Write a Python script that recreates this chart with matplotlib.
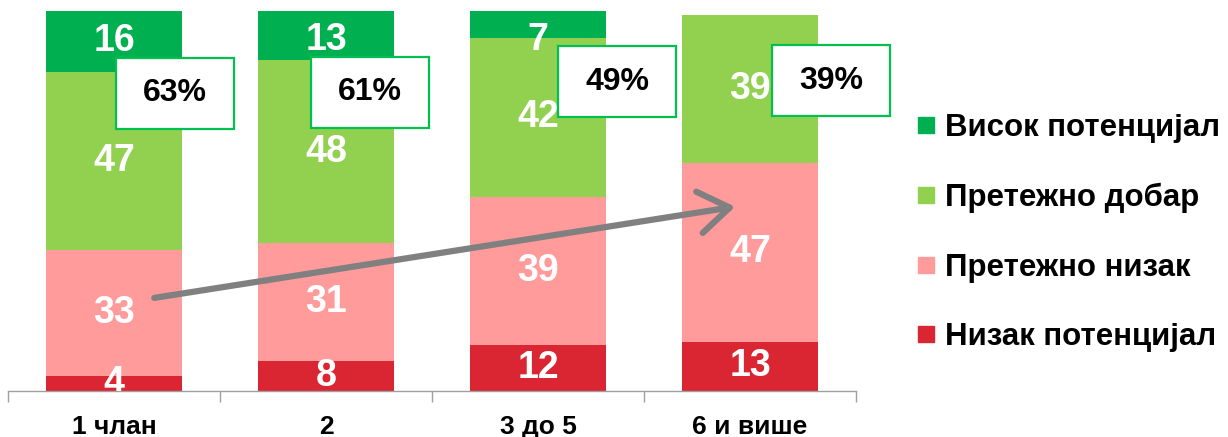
import matplotlib.pyplot as plt
from matplotlib.patches import Rectangle
from matplotlib.lines import Line2D

plt.rcParams['font.family'] = ['Liberation Sans', 'DejaVu Sans']

categories = ['1 члан', '2', '3 до 5', '6 и више']
nizak = [4, 8, 12, 13]
pretezno_nizak = [33, 31, 39, 47]
pretezno_dobar = [47, 48, 42, 39]
visok = [16, 13, 7, 0]
share_labels = ['63%', '61%', '49%', '39%']

# layout of the share boxes (offset from bar centre, vertical centre)
box_dx = [0.288, 0.208, 0.373, 0.382]
box_y = [78.3, 78.6, 81.4, 81.7]

series_names = ['Низак потенцијал', 'Претежно низак', 'Претежно добар', 'Висок потенцијал']
colors = ['#DA2632', '#FF9B9B', '#92D050', '#00B050']
series = [nizak, pretezno_nizak, pretezno_dobar, visok]

fig = plt.figure(figsize=(12.28, 4.37), dpi=100)
ax = fig.add_axes([8 / 1228, 46 / 437, 848 / 1228, 380 / 437])

x = list(range(len(categories)))
bottom = [0] * len(categories)
for vals, col in zip(series, colors):
    ax.bar(x, vals, width=0.64, bottom=bottom, color=col, zorder=2)
    for xi, v, b in zip(x, vals, bottom):
        if v > 0:
            # keep labels inside the plot area like Excel does
            ly = min(b + v / 2, 92.5)
            ax.text(xi, ly, str(v), ha='center', va='center', color='white',
                    fontsize=27, fontweight='bold', clip_on=True, zorder=3)
    bottom = [b + v for b, v in zip(bottom, vals)]

# trend arrow
ax.annotate('', xy=(2.93, 48.5), xytext=(0.19, 24.5),
            arrowprops=dict(arrowstyle='->,head_length=1.1,head_width=0.75',
                            color='#808080', lw=4.5, mutation_scale=20,
                            capstyle='round', joinstyle='round',
                            shrinkA=0, shrinkB=0),
            zorder=5)

# boxes with share of good potential
bw, bh = 0.557, 18.7
for xi, lab, dx, yc in zip(x, share_labels, box_dx, box_y):
    ax.add_patch(Rectangle((xi + dx - bw / 2, yc - bh / 2), bw, bh,
                           facecolor='white', edgecolor='#00C050', lw=1.6,
                           zorder=6, clip_on=False))
    ax.text(xi + dx, yc, lab, ha='center', va='center', fontsize=23,
            fontweight='bold', color='black', zorder=7)

ax.set_xlim(-0.5, 3.5)
ax.set_ylim(0, 100)
for s in ['top', 'right', 'left']:
    ax.spines[s].set_visible(False)
ax.spines['bottom'].set_color('#A0A0A0')
ax.spines['bottom'].set_linewidth(1)
ax.set_yticks([])
ax.set_xticks(x)
ax.set_xticklabels(categories, fontsize=19, fontweight='bold')
ax.tick_params(axis='x', which='major', length=0, pad=17)
ax.set_xticks([-0.5, 0.5, 1.5, 2.5, 3.5], minor=True)
ax.tick_params(axis='x', which='minor', length=8, color='#A0A0A0', width=1)

handles = [Line2D([], [], marker='s', linestyle='none', markersize=11.5,
                  markerfacecolor=c, markeredgecolor=c) for c in colors[::-1]]
fig.legend(handles, series_names[::-1], loc='upper left',
           bbox_to_anchor=(917 / 1228, 1 - 113 / 437), frameon=False,
           prop={'size': 22.5, 'weight': 'bold'}, labelspacing=1.27,
           handlelength=0.6, handletextpad=0.3, borderpad=0, borderaxespad=0)

fig.savefig('out.png', dpi=100)
